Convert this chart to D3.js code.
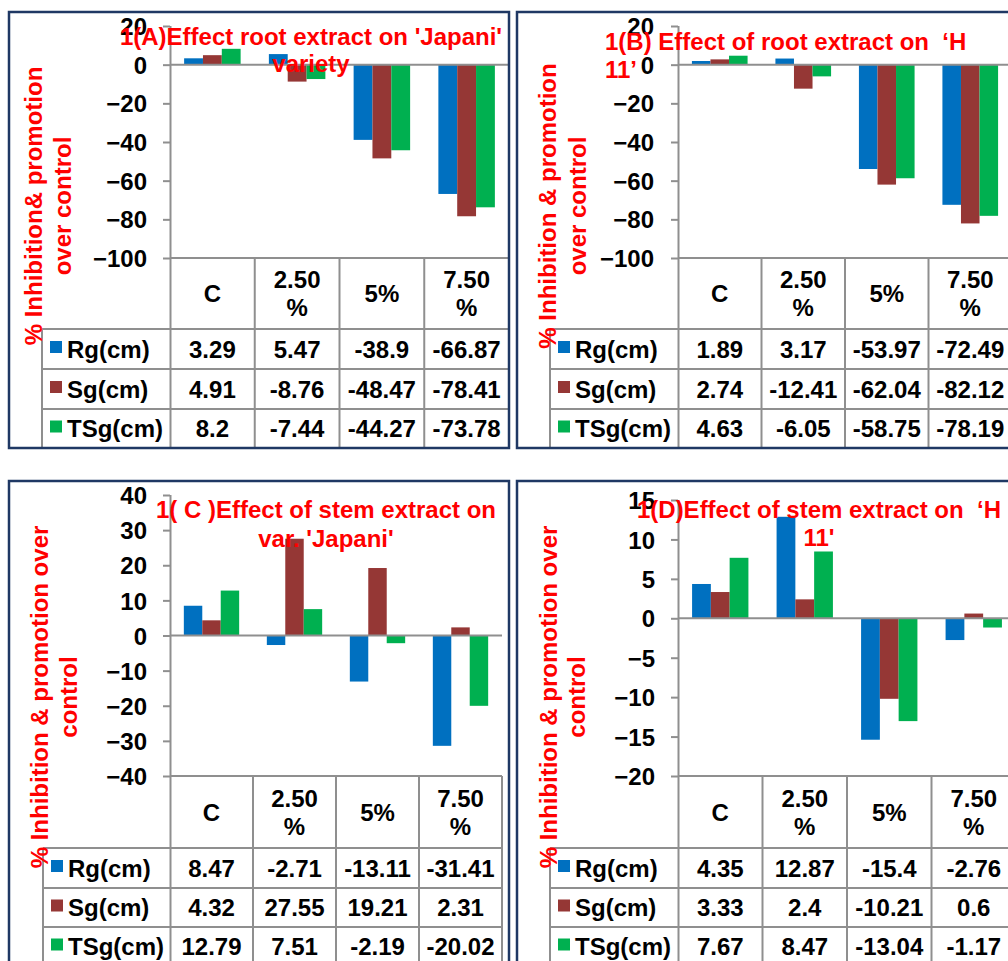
<!DOCTYPE html>
<html>
<head>
<meta charset="utf-8">
<script src="https://cdn.jsdelivr.net/npm/d3@7/dist/d3.min.js"></script>
<style>
  html, body { margin: 0; padding: 0; background: #fff; }
  svg text { font-family: "Liberation Sans", Arial, sans-serif; font-weight: bold; white-space: pre; }
</style>
</head>
<body>
<svg id="chart" width="1008" height="961"></svg>
<script>
// ---------- data ----------
const categories = ["C", "2.50 %", "5%", "7.50 %"];
const seriesNames = ["Rg(cm)", "Sg(cm)", "TSg(cm)"];

const rootJapaniRg  = [3.29, 5.47, -38.9, -66.87];
const rootJapaniSg  = [4.91, -8.76, -48.47, -78.41];
const rootJapaniTSg = [8.2, -7.44, -44.27, -73.78];

const rootH11Rg  = [1.89, 3.17, -53.97, -72.49];
const rootH11Sg  = [2.74, -12.41, -62.04, -82.12];
const rootH11TSg = [4.63, -6.05, -58.75, -78.19];

const stemJapaniRg  = [8.47, -2.71, -13.11, -31.41];
const stemJapaniSg  = [4.32, 27.55, 19.21, 2.31];
const stemJapaniTSg = [12.79, 7.51, -2.19, -20.02];

const stemH11Rg  = [4.35, 12.87, -15.4, -2.76];
const stemH11Sg  = [3.33, 2.4, -10.21, 0.6];
const stemH11TSg = [7.67, 8.47, -13.04, -1.17];

const ticksRoot       = [20, 0, -20, -40, -60, -80, -100];
const ticksStemJapani = [40, 30, 20, 10, 0, -10, -20, -30, -40];
const ticksStemH11    = [15, 10, 5, 0, -5, -10, -15, -20];

const titleA = ["1(A)Effect root extract on 'Japani'", "variety"];
const titleB = ["1(B) Effect of root extract on  \u2018H", "11\u2019"];
const titleC = ["1( C )Effect of stem extract on", "var. 'Japani'"];
const titleD = ["1(D)Effect of stem extract on  \u2018H", "11'"];

const ylabelA = ["% Inhibition& promotion", "over control"];
const ylabelB = ["% Inhibition & promotion", "over control"];
const ylabelC = ["% Inhibition & promotion over", "control"];
const ylabelD = ["% Inhibition & promotion over", "control"];

// ---------- style / layout ----------
const colors = ["#0070C0", "#953735", "#00B050"];
const gridColor = "#8f8f8f";
const borderColor = "#1F3864";
const titleColor = "#FF0000";
const FS = 24;

const panels = [
  { series: [rootJapaniRg, rootJapaniSg, rootJapaniTSg], ticks: ticksRoot, title: titleA, ylabel: ylabelA,
    border: [9, 12, 500, 436], axisX: 170, catW: 84.75, yTop: 26, yBot: 258, legendX: 42,
    rows: [329, 369, 409, 448], tickLabelRight: 147,
    titlePos: { x: 311, y: [45, 72], anchor: "middle" },
    ylabPos: { x: [42, 71], y: 206 } },
  { series: [rootH11Rg, rootH11Sg, rootH11TSg], ticks: ticksRoot, title: titleB, ylabel: ylabelB,
    border: [517, 12, 510, 436], axisX: 678, catW: 83.5, yTop: 26, yBot: 258, legendX: 550,
    rows: [329, 369, 409, 448], tickLabelRight: 654,
    titlePos: { x: 605, y: [50, 78], anchor: "start" },
    ylabPos: { x: [556, 586], y: 206 } },
  { series: [stemJapaniRg, stemJapaniSg, stemJapaniTSg], ticks: ticksStemJapani, title: titleC, ylabel: ylabelC,
    border: [9, 481, 500, 510], axisX: 170, catW: 83, yTop: 495, yBot: 776, legendX: 43,
    rows: [848, 888, 927, 966], tickLabelRight: 147,
    titlePos: { x: 326, y: [518, 547], anchor: "middle" },
    ylabPos: { x: [48, 77], y: 697 } },
  { series: [stemH11Rg, stemH11Sg, stemH11TSg], ticks: ticksStemH11, title: titleD, ylabel: ylabelD,
    border: [517, 481, 510, 510], axisX: 678, catW: 84.5, yTop: 500, yBot: 776, legendX: 550,
    rows: [848, 888, 927, 966], tickLabelRight: 655,
    titlePos: { x: 819, y: [518, 546], anchor: "middle" },
    ylabPos: { x: [557, 585], y: 697 } }
];

const svg = d3.select("#chart");

panels.forEach(p => {
  const g = svg.append("g");
  const right = p.axisX + p.catW * categories.length;

  const y = d3.scaleLinear()
    .domain([d3.min(p.ticks), d3.max(p.ticks)])
    .range([p.yBot, p.yTop]);
  const x = d3.scaleBand().domain(categories).range([p.axisX, right]).paddingInner(0).paddingOuter(0);
  const xs = d3.scaleBand().domain(seriesNames).range([0, x.bandwidth()]).paddingInner(0).paddingOuter(0.75);

  // bars
  p.series.forEach((vals, si) => {
    g.append("g").selectAll("rect")
      .data(vals.map((v, i) => ({ v, c: categories[i] })))
      .join("rect")
      .attr("x", d => x(d.c) + xs(seriesNames[si]))
      .attr("width", xs.bandwidth())
      .attr("y", d => Math.min(y(d.v), y(0)))
      .attr("height", d => Math.abs(y(d.v) - y(0)))
      .attr("fill", colors[si]);
  });

  // y axis
  const axis = d3.axisLeft(y).tickValues(p.ticks).tickSizeInner(7).tickSizeOuter(0)
    .tickPadding(p.axisX - 7 - p.tickLabelRight);
  const ag = g.append("g").attr("transform", `translate(${p.axisX},0)`).call(axis);
  ag.select(".domain").attr("stroke", gridColor).attr("stroke-width", 2)
    .attr("d", `M0.5,${p.yTop}V${p.rows[3]}`);
  ag.selectAll(".tick line").attr("stroke", gridColor).attr("stroke-width", 2);
  ag.selectAll(".tick text").attr("font-size", FS).attr("fill", "#000")
    .attr("font-family", "Liberation Sans, Arial, sans-serif").attr("font-weight", "bold")
    .attr("dy", "0.36em");

  // zero line
  g.append("line").attr("x1", p.axisX).attr("x2", right)
    .attr("y1", y(0)).attr("y2", y(0)).attr("stroke", gridColor).attr("stroke-width", 2);

  // data table lines
  const tl = g.append("g").attr("stroke", gridColor).attr("stroke-width", 2);
  tl.append("line").attr("x1", p.axisX).attr("x2", right).attr("y1", p.yBot).attr("y2", p.yBot);
  p.rows.forEach(r => tl.append("line").attr("x1", p.legendX).attr("x2", right).attr("y1", r).attr("y2", r));
  tl.append("line").attr("x1", p.legendX).attr("x2", p.legendX).attr("y1", p.rows[0]).attr("y2", p.rows[3]);
  categories.forEach((c, i) => {
    const xx = x(c) + x.bandwidth();
    tl.append("line").attr("x1", xx).attr("x2", xx).attr("y1", p.yBot).attr("y2", p.rows[3]);
  });

  // header labels
  categories.forEach(c => {
    const parts = c.split(" ");
    const cx = x(c) + x.bandwidth() / 2;
    const cy = (p.yBot + p.rows[0]) / 2;
    parts.forEach((t, k) => {
      g.append("text").attr("x", cx)
        .attr("y", cy + (k - (parts.length - 1) / 2) * 28 + 8.5)
        .attr("text-anchor", "middle").attr("font-size", FS).attr("fill", "#000").text(t);
    });
  });

  // rows
  seriesNames.forEach((s, si) => {
    const top = si === 0 ? p.rows[0] : p.rows[si];
    const bot = p.rows[si + 1];
    const cy = (top + bot) / 2;
    g.append("rect").attr("x", p.legendX + 8).attr("y", cy - 8).attr("width", 12).attr("height", 12)
      .attr("fill", colors[si]);
    g.append("text").attr("x", p.legendX + 25).attr("y", cy + 8.5)
      .attr("font-size", FS).attr("fill", "#000").text(s);
    p.series[si].forEach((v, i) => {
      g.append("text").attr("x", x(categories[i]) + x.bandwidth() / 2).attr("y", cy + 8.5)
        .attr("text-anchor", "middle").attr("font-size", FS).attr("fill", "#000").text(String(v));
    });
  });

  // y label
  p.ylabel.forEach((t, k) => {
    g.append("text")
      .attr("transform", `translate(${p.ylabPos.x[k]},${p.ylabPos.y}) rotate(-90)`)
      .attr("text-anchor", "middle").attr("font-size", FS).attr("fill", titleColor).text(t);
  });

  // title
  p.title.forEach((t, k) => {
    g.append("text").attr("x", p.titlePos.x).attr("y", p.titlePos.y[k])
      .attr("text-anchor", p.titlePos.anchor).attr("font-size", FS).attr("fill", titleColor).text(t);
  });

  // border
  g.append("rect").attr("x", p.border[0]).attr("y", p.border[1])
    .attr("width", p.border[2]).attr("height", p.border[3])
    .attr("fill", "none").attr("stroke", borderColor).attr("stroke-width", 2.5);
});
</script>
</body>
</html>
